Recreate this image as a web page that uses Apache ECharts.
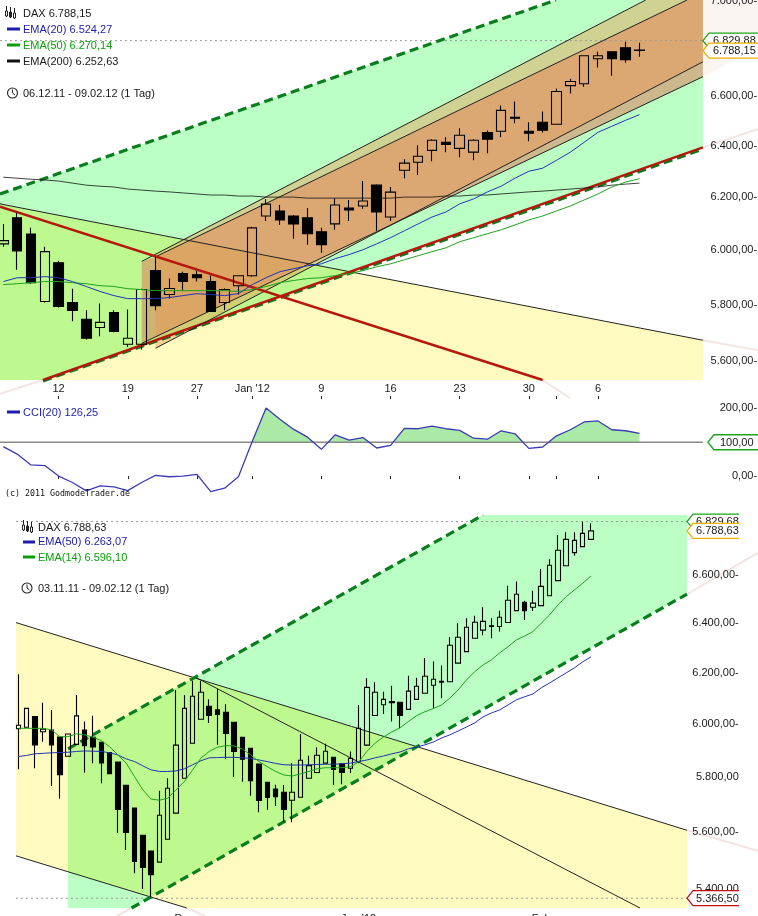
<!DOCTYPE html>
<html><head><meta charset="utf-8">
<style>html,body{margin:0;padding:0;background:#fff}#c{width:758px;height:916px}</style>
<script src="https://cdn.jsdelivr.net/npm/echarts@6/dist/echarts.min.js"></script>
</head><body><div id="c"></div>
<script>
// ---------- dates ----------
const dates = ['03.11','04.11','07.11','08.11','09.11','10.11','11.11','14.11','15.11','16.11','17.11','18.11','21.11','22.11','23.11','24.11','25.11','28.11','29.11','30.11','01.12','02.12','05.12','06.12','07.12','08.12','09.12','12.12','13.12','14.12','15.12','16.12','19.12','20.12','21.12','22.12','23.12','27.12','28.12','29.12','30.12','02.01','03.01','04.01','05.01','06.01','09.01','10.01','11.01','12.01','13.01','16.01','17.01','18.01','19.01','20.01','23.01','24.01','25.01','26.01','27.01','30.01','31.01','01.02','02.02','03.02','06.02','07.02','08.02','09.02'];
const topDates = dates.slice(23);
const topTickLabels = {'12.12':'12','19.12':'19','27.12':'27','02.01':"Jan '12",'09.01':'9','16.01':'16','23.01':'23','30.01':'30','01.02':'','06.02':'6'};
const bottomTickLabels = {'01.12':'Dec','02.01':"Jan '12",'01.02':'Feb'};

// ---------- top chart: [open, close, low, high] ----------
const topCandles = [
[6022,6034,6011,6097],[6120,5996,5926,6138],[6059,5879,5875,6082],[5811,5993,5807,6011],[5952,5793,5789,5959],
[5807,5779,5740,5857],[5747,5680,5676,5779],[5718,5736,5687,5804],[5771,5704,5701,5779],[5659,5680,5649,5782],
[5659,5854,5641,5857],[5923,5796,5779,5974],[5836,5858,5822,5894],[5912,5883,5850,5919],[5908,5897,5883,5923],
[5883,5775,5775,5905],[5807,5854,5779,5858],[5868,5904,5836,5906],[5904,6082,5901,6086],[6127,6172,6108,6192],
[6146,6112,6093,6169],[6127,6097,6041,6131],[6120,6060,6019,6157],[6067,6019,5989,6082],[6097,6169,6075,6195],
[6157,6150,6108,6188],[6165,6184,6154,6261],[6245,6142,6071,6249],[6123,6218,6108,6238],[6303,6331,6272,6346],
[6334,6358,6284,6401],[6381,6421,6338,6425],[6413,6405,6374,6433],[6389,6441,6354,6469],[6374,6421,6342,6425],
[6452,6425,6370,6460],[6457,6541,6433,6561],[6513,6509,6489,6577],[6457,6449,6417,6493],[6493,6461,6452,6537],
[6485,6618,6485,6630],[6642,6659,6610,6671],[6650,6766,6638,6766],[6754,6766,6717,6783],[6783,6754,6683,6783],
[6800,6750,6737,6825],[6790,6788,6762,6821]];
const topEma20 = [5883,5897,5897,5901,5897,5883,5865,5847,5832,5821,5821,5821,5825,5832,5839,5836,5832,5839,5872,5897,5919,5930,5941,5948,5967,5982,6000,6022,6045,6071,6097,6123,6142,6173,6192,6219,6241,6272,6299,6311,6342,6374,6413,6453,6477,6501,6524];
const topEma50 = [5872,5875,5879,5883,5883,5879,5875,5868,5865,5857,5854,5850,5850,5850,5850,5850,5850,5847,5854,5865,5879,5887,5894,5897,5905,5912,5923,5937,5948,5963,5978,5993,6007,6030,6045,6060,6075,6093,6112,6127,6146,6165,6188,6211,6238,6257,6270];
const topEma200 = [6276,6272,6268,6265,6261,6253,6245,6241,6238,6230,6226,6222,6219,6215,6211,6207,6207,6203,6203,6199,6199,6199,6195,6195,6195,6195,6195,6195,6195,6199,6199,6199,6203,6203,6207,6207,6211,6215,6219,6222,6226,6230,6234,6238,6245,6249,6253];
const topTicks = [7000,6600,6400,6200,6000,5800,5600];

// ---------- CCI ----------
const cciValues = [87,65,33,31,0,-19,-44,-29,-32,-43,-19,2,-2,0,5,-46,-36,-2,102,201,168,138,115,79,122,106,114,83,91,141,140,148,140,135,112,109,134,125,82,86,119,137,160,163,137,134,126];
const cciTicks = [200,0];
const cciLevel = [100];

// ---------- bottom chart ----------
const bottomCandles = [
[5982,5995,5828,6194],[5987,6060,5986,6062],[6028,5920,5832,6030],[5970,5980,5932,6082],[5976,5920,5766,6054],
[5950,5808,5719,5951],[5877,5961,5875,5963],[5922,6031,5919,6112],[5976,5917,5815,6009],[5949,5912,5851,6031],
[5930,5852,5776,5931],[5891,5812,5810,5892],[5855,5680,5595,5856],[5769,5597,5535,5771],[5685,5494,5453,5686],
[5587,5473,5398,5589],[5531,5448,5370,5532],[5492,5659,5491,5749],[5573,5758,5571,5795],[5667,5919,5667,6132],
[5795,6060,5795,6112],[5926,6107,5926,6168],[6018,6123,6018,6168],[6068,6032,6003,6095],[6054,6036,5920,6135],
[6045,5963,5866,6076],[6006,5895,5799,6007],[5949,5866,5782,5950],[5907,5786,5730,5908],[5848,5713,5670,5849],
[5780,5724,5679,5782],[5755,5727,5693,5771],[5743,5680,5636,5770],[5714,5743,5634,5851],[5725,5862,5725,5961],
[5795,5842,5795,5879],[5816,5881,5816,5911],[5851,5896,5851,5924],[5873,5828,5770,5875],[5849,5816,5773,5851],
[5832,5869,5814,5895],[5857,5983,5851,6073],[5919,6142,5916,6178],[6032,6123,6032,6162],[6074,6095,6038,6125],
[6086,6082,6009,6148],[6083,6032,5983,6085],[6056,6127,6056,6188],[6095,6146,6095,6180],[6119,6186,6119,6258],
[6150,6174,6060,6244],[6166,6162,6099,6228],[6164,6310,6164,6342],[6238,6342,6238,6399],[6284,6383,6284,6420],
[6338,6403,6338,6430],[6371,6407,6350,6465],[6389,6386,6338,6420],[6386,6424,6365,6451],[6402,6494,6401,6555],
[6451,6519,6451,6572],[6486,6451,6413,6492],[6465,6482,6450,6534],[6472,6552,6472,6625],[6513,6641,6513,6667],
[6576,6705,6576,6771],[6639,6752,6638,6783],[6695,6748,6682,6783],[6721,6778,6720,6829],[6752,6789,6750,6822]];
const botEma50 = [5876,5880,5886,5888,5890,5891,5892,5895,5897,5896,5895,5890,5882,5867,5857,5841,5826,5820,5820,5822,5830,5845,5860,5871,5872,5873,5873,5871,5869,5863,5857,5850,5845,5844,5844,5845,5846,5847,5847,5849,5851,5857,5863,5871,5878,5886,5893,5905,5912,5920,5931,5946,5958,5973,5988,6004,6027,6042,6054,6073,6093,6105,6116,6140,6159,6179,6199,6219,6243,6263];
const botEma14 = [5983,5983,5983,5983,5977,5951,5951,5962,5958,5949,5936,5913,5882,5851,5801,5752,5718,5714,5721,5752,5782,5826,5870,5895,5911,5917,5916,5904,5882,5857,5838,5820,5807,5803,5811,5820,5830,5834,5834,5834,5838,5855,5895,5927,5950,5969,5985,6009,6032,6047,6059,6073,6100,6132,6171,6204,6231,6251,6279,6304,6331,6347,6365,6399,6433,6474,6509,6537,6565,6596];
const botTicks = [6600,6400,6200,6000,5800,5600,5400];
const botTicksNoDash = [5800,5400];

// ---------- trend objects: [bar index, price] ----------
const tYellow = [[-0.24,6173],[50.59,5673],[50.59,5535],[-0.24,5535]];
const tGreen = [[-0.24,6211],[39.96,7004],[50.59,7004],[50.59,6393],[2.87,5535],[-0.24,5535]];
const tChanZ = [[10.01,5957],[11.01,5974],[49.44,7004],[50.59,7004],[50.59,6679],[10.01,5662]];
const tChanW = [[11.01,5985],[46.45,7004],[50.59,7004],[50.59,6741],[11.01,5645]];
const tTint = [[50.59,7004],[54.57,7004],[54.57,6800],[50.59,6679]];
const tGreenUp = [[-0.24,6211],[39.96,7004]];
const tGreenLow = [[2.87,5532],[50.59,6386]];
const tRedUp = [[2.87,5535],[50.59,6393]];
const tRedDown = [[-0.24,6162],[39.0,5535]];
const tBlackDown = [[-0.24,6173],[50.59,5673]];
const tU1 = [[10.01,5957],[46.45,7004]];
const tU2 = [[11.01,5974],[49.44,7004]];
const tL1 = [[11.01,5645],[50.59,6741]];
const tL2 = [[10.01,5662],[50.59,6679]];
const tFaint = [[[50.59,6393],[54.57,6465]],[[50.59,5673],[54.57,5638]],[[39.0,5535],[40.97,5473]],[[-0.24,5488],[2.87,5535]]];
const tHigh = [[-0.24,6829.88],[50.59,6829.88]];

const bYellow = [[-0.28,6402],[80.57,5605],[80.57,5333],[20.3,5333],[-0.28,5514]];
const bGreen = [[5.99,5905],[55.99,6858],[80.57,6858],[80.57,6520],[13.64,5333],[5.99,5333]];
const bGreenUp = [[5.99,5905],[55.99,6858]];
const bGreenLow = [[13.64,5333],[80.57,6520]];
const bBlackA = [[-0.28,6402],[80.57,5605]];
const bBlackB = [[-0.28,5514],[20.3,5333]];
const bBlackC = [[21.49,6179],[74.9,5333]];
const bFaint = [[[80.57,6520],[89.1,6694]],[[80.57,5605],[89.1,5532]],[[13.64,5333],[11.9,5306]],[[20.3,5333],[22.5,5306]]];
const bHigh = [[-0.28,6829.68],[81.0,6829.68]];
const bLow = [[-0.28,5366.5],[81.0,5366.5]];

const tagsTop = [{v:6829.88,t:'6.829,88',k:'g'},{v:6788.15,t:'6.788,15',k:'o'}];
const tagsBot = [{v:6829.68,t:'6.829,68',k:'g'},{v:6788.63,t:'6.788,63',k:'o'},{v:5366.5,t:'5.366,50',k:'r'}];
const tagsCci = [{v:100,t:'100,00',k:'g'}];

// ---------- helpers ----------
const FONT = '"Liberation Sans", Arial, sans-serif';
const fmt = v => { const s = v.toFixed(2).replace('.',','); return s.replace(/^(\d)(\d{3}),/,'$1.$2,'); };
const yellowFill = '#fffac0', greenFill = '#bbffc4', bothFill = '#bdf98f';
const DG = '#0a7d1e', RED = '#b5180c', THIN = '#222';
const faint = 'rgba(235,205,205,0.55)';

// where two convex shapes overlap the two tints combine, so that part is cut out in screen space
function clipConvex(subject, clip){
  const area = clip.reduce((s,p,i)=>{const q=clip[(i+1)%clip.length];return s+p[0]*q[1]-q[0]*p[1];},0);
  const sign = area>0?1:-1;
  let out = subject;
  clip.forEach((a,i)=>{
    const b = clip[(i+1)%clip.length];
    const inside = p => sign*((b[0]-a[0])*(p[1]-a[1])-(b[1]-a[1])*(p[0]-a[0]))>=0;
    const input = out; out = [];
    input.forEach((p,j)=>{
      const q = input[(j+1)%input.length];
      const pi = inside(p), qi = inside(q);
      if(pi) out.push(p);
      if(pi!==qi){
        const d1=(q[0]-p[0])*(b[1]-a[1])-(q[1]-p[1])*(b[0]-a[0]);
        const t=((a[0]-p[0])*(b[1]-a[1])-(a[1]-p[1])*(b[0]-a[0]))/d1;
        out.push([p[0]+t*(q[0]-p[0]),p[1]+t*(q[1]-p[1])]);
      }
    });
  });
  return out;
}
function shapesSeries(grid, items, z){
  return { type:'custom', xAxisIndex:grid*2+1, yAxisIndex:grid, z, clip:false, silent:true,
    data:[[0, grid===1?100:6000]], encode:{x:0,y:1},
    renderItem:(p,api)=>{
      const children = items.map(it=>{
        let pts = it.pts.map(q=>api.coord(q));
        if(it.within) pts = clipConvex(pts, it.within.map(q=>api.coord(q)));
        if(it.fill) return {type:'polygon',shape:{points:pts},style:{fill:it.fill,stroke:null}};
        return {type:'polyline',shape:{points:pts},style:{fill:null,stroke:it.stroke,lineWidth:it.w||1,lineDash:it.dash||null}};
      });
      return {type:'group',children};
    }};
}
function tagSeries(grid, tags, xIdx, width, textX){
  const cols = {g:'#1aa51a',o:'#eeb000',r:'#c01010'};
  return { type:'custom', xAxisIndex:grid*2+1, yAxisIndex:grid, z:10, clip:false, silent:true,
    data:[[0, grid===1?100:6000]], encode:{x:0,y:1},
    renderItem:(p,api)=>{
      const ch=[];
      tags.forEach(t=>{
        const [x,y]=api.coord([xIdx,t.v]);
        const h=7.5, c=cols[t.k];
        ch.push({type:'polygon',shape:{points:[[x,y],[x+6,y-h],[x+width,y-h],[x+width,y+h],[x+6,y+h]]},style:{fill:'#fff',stroke:null}});
        ch.push({type:'polyline',shape:{points:[[x+width,y-h],[x+6,y-h],[x,y],[x+6,y+h],[x+width,y+h]]},style:{fill:null,stroke:c,lineWidth:1.3}});
        ch.push({type:'text',style:{text:t.t,x:x+textX,y:y+0.5,font:'11px '+FONT,fill:'#1a1a1a',verticalAlign:'middle',textVerticalAlign:'middle'}});
      });
      return {type:'group',children:ch};
    }};
}
function lineSeries(grid,data,color,w){
  return {type:'line',xAxisIndex:grid*2,yAxisIndex:grid,data,symbol:'none',z:4,silent:true,animation:false,
    lineStyle:{color,width:w||1},itemStyle:{color}};
}
function candle(grid,data,bw){
  return {type:'candlestick',xAxisIndex:grid*2,yAxisIndex:grid,data,barWidth:bw,z:3,silent:true,
    itemStyle:{color:'rgba(255,255,255,0)',color0:'#000',borderColor:'#000',borderColor0:'#000',borderWidth:1.1}};
}
// CCI part above the 100 level, with the crossing points worked out from the values
function cciAbove(vals,lvl){
  const out=[];
  vals.forEach((v,i)=>{
    if(i>0){
      const a=vals[i-1];
      if((a-lvl)*(v-lvl)<0) out.push([i-1+(lvl-a)/(v-a),lvl]);
    }
    out.push([i,Math.max(v,lvl)]);
  });
  return out;
}
const pad = (arr,n)=>{const r=arr.slice();for(let i=arr.length;i<n;i++)r.push('+'+i);return r;};

// ---------- layout ----------
const tB=13.83, bB=8.3, nT=52, nB=82;
const g0={left:3.3-tB/2,width:nT*tB,top:0,height:380,outerBoundsMode:'none'};
const g1={left:3.3-tB/2,width:nT*tB,top:400,height:96,outerBoundsMode:'none'};
const g2={left:18.3-bB/2,width:nB*bB,top:515,height:393,outerBoundsMode:'none'};

const lab = {fontFamily:FONT,fontSize:11,color:'#1a1a1a'};
function xCat(grid,data,labels,opts){
  return Object.assign({type:'category',gridIndex:grid,data,boundaryGap:true,
    axisLine:{show:false},splitLine:{show:false},
    axisTick:{show:false}, axisLabel:{show:false}},opts(labels));
}
const xAxis=[
  xCat(0,pad(topDates,nT),topTickLabels,m=>({offset:16,
    axisTick:{show:true,length:3,alignWithLabel:true,interval:(i,v)=>v in m,lineStyle:{color:'#222'}},
    axisLabel:Object.assign({show:true,inside:true,margin:2,interval:(i,v)=>v in m,formatter:v=>m[v]||''},lab)})),
  {type:'value',gridIndex:0,show:false,min:-0.5,max:nT-0.5},
  xCat(1,pad(topDates,nT),topTickLabels,m=>({
    axisTick:{show:true,length:3,alignWithLabel:true,interval:(i,v)=>v in m,lineStyle:{color:'#222'}}})),
  {type:'value',gridIndex:1,show:false,min:-0.5,max:nT-0.5},
  xCat(2,pad(dates,nB),bottomTickLabels,m=>({
    axisLabel:Object.assign({show:true,margin:5,interval:(i,v)=>v in m,formatter:v=>m[v]||''},lab)})),
  {type:'value',gridIndex:2,show:false,min:-0.5,max:nB-0.5}
];
function yLog(grid,min,max,ticks,margin,noDash){
  return {type:'log',gridIndex:grid,position:'right',min,max,z:5,splitLine:{show:false},axisLine:{show:false},axisTick:{show:false},
    axisLabel:Object.assign({show:true,customValues:ticks,margin,align:'right',showMinLabel:true,showMaxLabel:true,
      formatter:v=>fmt(Math.round(v))+(noDash&&noDash.includes(Math.round(v))?'':'-')},lab)};
}
const yAxis=[
  yLog(0,5535,7004,topTicks,41.5),
  {type:'value',gridIndex:1,position:'right',min:-59,max:225,z:5,splitLine:{show:false},axisLine:{show:false},axisTick:{show:false},
    axisLabel:Object.assign({show:true,customValues:cciTicks,margin:41.5,align:'right',formatter:v=>fmt(v)+'-'},lab)},
  yLog(2,5333,6858.3,botTicks,44,botTicksNoDash)
];

const series=[
  shapesSeries(0,[
    {pts:tYellow,fill:yellowFill},
    {pts:tGreen,fill:greenFill},
    {pts:tYellow,within:tGreen,fill:bothFill},
    {pts:tChanZ,fill:'rgba(221,119,90,0.53)'},
    {pts:tChanW,fill:'rgba(240,142,75,0.4)'},
    {pts:tTint,fill:'#fbf5f2'},
    ...tFaint.map(p=>({pts:p,stroke:faint,w:2}))
  ],1),
  shapesSeries(0,[
    {pts:tHigh,stroke:'#9a9a9a',w:1,dash:[2,3]},
    {pts:tBlackDown,stroke:THIN,w:1},
    {pts:tGreenUp,stroke:DG,w:3.2,dash:[9,5]},
    {pts:tGreenLow,stroke:DG,w:3.2,dash:[9,5]},
    {pts:tRedUp,stroke:RED,w:2.4},
    {pts:tU1,stroke:THIN,w:1},{pts:tU2,stroke:THIN,w:1},{pts:tL1,stroke:THIN,w:1},{pts:tL2,stroke:THIN,w:1},
    {pts:tRedDown,stroke:RED,w:2.4}
  ],2),
  candle(0,topCandles,10),
  lineSeries(0,topEma200,'rgba(20,20,20,0.8)'),
  lineSeries(0,topEma50,'#1fa31f'),
  lineSeries(0,topEma20,'#2233b5'),
  tagSeries(0,[tagsTop[0],tagsTop[1]],50.59,55,10),

  // CCI
  {type:'line',xAxisIndex:3,yAxisIndex:1,data:cciAbove(cciValues,cciLevel[0]),symbol:'none',z:1,silent:true,
    lineStyle:{width:0,opacity:0},areaStyle:{color:'#abe9a6',opacity:1,origin:cciLevel[0]}},
  shapesSeries(1,[{pts:[[-0.5,cciLevel[0]],[50.59,cciLevel[0]]],stroke:'#8a8a8a',w:1.5}],2),
  lineSeries(1,cciValues,'#3b3bb5',1.3),
  tagSeries(1,tagsCci,50.95,50,12),

  // bottom
  shapesSeries(2,[
    {pts:bYellow,fill:yellowFill},
    {pts:bGreen,fill:greenFill},
    {pts:bYellow,within:bGreen,fill:bothFill},
    ...bFaint.map(p=>({pts:p,stroke:faint,w:2}))
  ],1),
  shapesSeries(2,[
    {pts:bHigh,stroke:'#9a9a9a',w:1,dash:[2,3]},
    {pts:bLow,stroke:'#9a9a9a',w:1,dash:[2,3]},
    {pts:bBlackA,stroke:THIN,w:1},{pts:bBlackB,stroke:THIN,w:1},{pts:bBlackC,stroke:THIN,w:1},
    {pts:bGreenUp,stroke:DG,w:3.2,dash:[9,5]},
    {pts:bGreenLow,stroke:DG,w:3.2,dash:[9,5]}
  ],2),
  candle(2,bottomCandles,5),
  lineSeries(2,botEma50,'#2233b5'),
  lineSeries(2,botEma14,'#1fa31f'),
  tagSeries(2,tagsBot,80.57,52,9)
];

// ---------- legends ----------
const txt=(x,y,t,c)=>({type:'text',x,y,z:20,style:{text:t,fill:c,font:'11px '+FONT,verticalAlign:'middle'}});
const swatch=(x,y,w,c)=>({type:'rect',z:20,shape:{x,y:y-1.5,width:w,height:3},style:{fill:c}});
const clock=(x,y)=>[
  {type:'circle',z:20,shape:{cx:x,cy:y,r:5},style:{fill:'#fff',stroke:'#222',lineWidth:1.1}},
  {type:'polyline',z:20,shape:{points:[[x,y-3.5],[x,y],[x+2.5,y+2]]},style:{fill:null,stroke:'#222',lineWidth:1}}];
const ohlc=(x,y)=>[0,4,8].reduce((a,d,i)=>{
  const dy=[-1,0,1][i];
  a.push({type:'line',z:20,shape:{x1:x+d,y1:y-6+dy,x2:x+d,y2:y+5+dy},style:{stroke:'#222',lineWidth:1}});
  a.push({type:'rect',z:20,shape:{x:x+d-1,y:y-1+dy,width:2,height:5},style:{fill:i===1?'#222':'#fff',stroke:'#222',lineWidth:1}});
  return a;},[]);
const BLUE='#1c1cb0', GRN='#08a008';
const graphic=[].concat(
  ohlc(6.5,13),[txt(23,13.5,'DAX 6.788,15','#1a1a1a')],
  [swatch(7,29,13,BLUE),txt(23,29.5,'EMA(20) 6.524,27',BLUE)],
  [swatch(7,45,13,GRN),txt(23,45.5,'EMA(50) 6.270,14',GRN)],
  [swatch(7,61,13,'#111'),txt(23,61.5,'EMA(200) 6.252,63','#1a1a1a')],
  clock(12.5,93),[txt(23,93.5,'06.12.11 - 09.02.12 (1 Tag)','#1a1a1a')],
  [swatch(7,412,13,BLUE),txt(23,412.5,'CCI(20) 126,25',BLUE)],
  [{type:'text',x:5,y:494,z:20,style:{text:'(c) 2011 GodmodeTrader.de',fill:'#111',font:'8.3px "DejaVu Sans Mono", monospace',verticalAlign:'middle'}}],
  ohlc(23.5,527),[txt(38,527.5,'DAX 6.788,63','#1a1a1a')],
  [swatch(23,542,12,BLUE),txt(38,541.5,'EMA(50) 6.263,07',BLUE)],
  [swatch(23,557,12,GRN),txt(38,557.5,'EMA(14) 6.596,10',GRN)],
  clock(27,588),[txt(38,588.5,'03.11.11 - 09.02.12 (1 Tag)','#1a1a1a')]
);

const chart=echarts.init(document.getElementById('c'),null,{renderer:'canvas',width:758,height:916});
chart.setOption({animation:false,backgroundColor:'#fff',grid:[g0,g1,g2],xAxis,yAxis,series,graphic:{elements:graphic},tooltip:{show:false},legend:{show:false}});
</script></body></html>
